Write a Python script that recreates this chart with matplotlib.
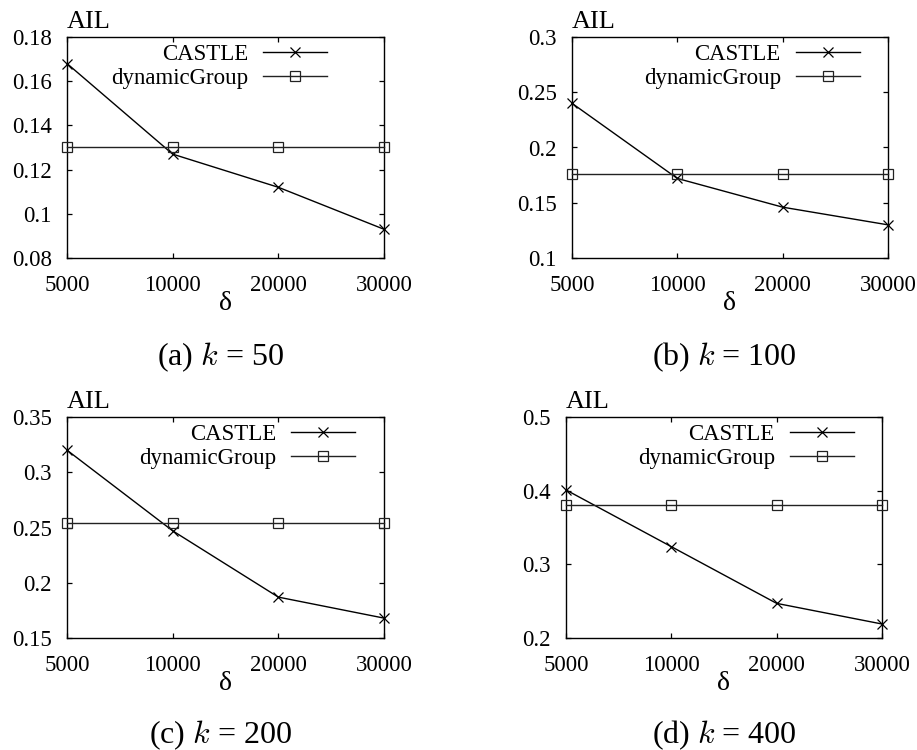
import matplotlib
matplotlib.use("Agg")
import matplotlib.pyplot as plt

plt.rcParams['font.family'] = ['Liberation Serif', 'DejaVu Serif']
plt.rcParams['mathtext.fontset'] = 'cm'

# Window sizes (delta) shared by all panels
x_labels = ['5000', '10000', '20000', '30000']

# Average information loss per anonymity level k
castle_k50 = [0.168, 0.127, 0.112, 0.093]
dyn_k50 = [0.130, 0.130, 0.130, 0.130]
castle_k100 = [0.240, 0.172, 0.146, 0.130]
dyn_k100 = [0.176, 0.176, 0.176, 0.176]
castle_k200 = [0.320, 0.247, 0.187, 0.168]
dyn_k200 = [0.254, 0.254, 0.254, 0.254]
castle_k400 = [0.401, 0.324, 0.247, 0.219]
dyn_k400 = [0.380, 0.380, 0.380, 0.380]

yticks_k50 = [0.08, 0.10, 0.12, 0.14, 0.16, 0.18]
yticks_k100 = [0.10, 0.15, 0.20, 0.25, 0.30]
yticks_k200 = [0.15, 0.20, 0.25, 0.30, 0.35]
yticks_k400 = [0.2, 0.3, 0.4, 0.5]

captions = ['(a) $k$ = 50', '(b) $k$ = 100', '(c) $k$ = 200', '(d) $k$ = 400']

W, H = 917, 750
fig = plt.figure(figsize=(W / 100, H / 100), dpi=100)

# panel boxes in pixels: left, top, right, bottom
boxes = [(67, 37, 384, 258), (572, 37, 888, 258),
         (67, 417, 384, 638), (566, 417, 882, 638)]
legend_x = [0.820, 0.911, 0.909, 0.911]
caption_pos = [(220, 365), (724, 365), (220, 743), (724, 743)]

panels = [(castle_k50, dyn_k50, yticks_k50),
          (castle_k100, dyn_k100, yticks_k100),
          (castle_k200, dyn_k200, yticks_k200),
          (castle_k400, dyn_k400, yticks_k400)]


def fmt(v):
    return ('%.2f' % v).rstrip('0').rstrip('.')


FS = 16.5
for i, ((castle, dyn, yt), (l, t, r, b)) in enumerate(zip(panels, boxes)):
    ax = fig.add_axes([l / W, 1 - b / H, (r - l) / W, (b - t) / H])
    xs = list(range(len(x_labels)))
    ax.plot(xs, castle, color='black', lw=1.0, marker='x', ms=7,
            mew=0.9, clip_on=False, zorder=3, label='CASTLE')
    ax.plot(xs, dyn, color='#222222', lw=1.0, marker='s', ms=7,
            mfc='none', mec='#222222', mew=0.9, clip_on=False, zorder=3,
            label='dynamicGroup')
    ax.set_xlim(0, len(x_labels) - 1)
    ax.set_ylim(yt[0], yt[-1])
    ax.set_xticks(xs)
    ax.set_xticklabels(x_labels, fontsize=FS)
    ax.set_yticks(yt)
    ax.set_yticklabels([fmt(v) for v in yt], fontsize=FS)
    ax.tick_params(direction='in', length=3.5, width=0.9,
                   top=True, right=True)
    ax.tick_params(axis='y', pad=11)
    ax.tick_params(axis='x', pad=12.5)
    for sp in ax.spines.values():
        sp.set_linewidth(1.0)
    ax.set_xlabel('δ', fontsize=20, labelpad=-4)
    ax.text(0.0, 1 + 9 / (b - t), 'AIL', transform=ax.transAxes,
            ha='left', va='baseline', fontsize=19)
    ax.legend(loc='upper right', bbox_to_anchor=(legend_x[i], 0.967),
              frameon=False, markerfirst=False, fontsize=FS,
              handlelength=2.8, handletextpad=0.65, borderpad=0,
              borderaxespad=0, labelspacing=0.1)
    cx, cy = caption_pos[i]
    fig.text(cx / W, 1 - cy / H, captions[i], ha='center', va='baseline',
             fontsize=23)

fig.savefig('out.png', dpi=100)
